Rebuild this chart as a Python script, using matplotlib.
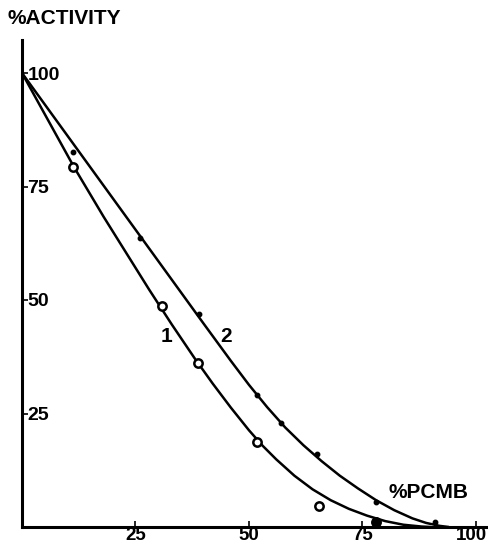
import matplotlib.pyplot as plt
from matplotlib.transforms import ScaledTranslation

pcmb_1 = [11.2, 30.8, 38.8, 51.7, 65.4, 78.0]
act_1 = [79.2, 48.7, 36.2, 18.7, 4.6, 1.2]

pcmb_2 = [11.2, 26.0, 39.0, 51.8, 57.0, 65.0, 78.0, 91.0]
act_2 = [82.5, 63.6, 47.0, 29.0, 23.0, 16.0, 5.5, 1.0]

# hand drawn curves
curve1_x = [0, 11.5, 18, 22, 28, 33, 38, 42, 46, 50, 53, 56, 60, 64, 68, 72, 76, 80, 84, 88, 90]
curve1_y = [100, 79.2, 68.3, 61.9, 52.3, 44.6, 37.2, 31.6, 26.3, 21.3, 17.9, 14.9,
            11.3, 8.3, 5.9, 4.0, 2.5, 1.3, 0.5, 0.1, 0]

curve2_x = [0, 10, 20, 30, 40, 46, 50, 54, 58, 62, 66, 70, 74, 78, 82, 86, 89, 92, 94]
curve2_y = [100, 86.2, 72.4, 58.6, 44.8, 36.6, 31.3, 26.4, 21.9, 18.0, 14.5, 11.3,
            8.5, 5.9, 3.7, 1.9, 0.9, 0.25, 0]

ticks = [25, 50, 75, 100]

font = ['Liberation Sans', 'DejaVu Sans']

fig = plt.figure(figsize=(4.89, 5.47), dpi=100)
ax = fig.add_axes([22/489, 20/547, 467/489, 487/547])

ax.plot(curve1_x, curve1_y, color='black', lw=1.8, solid_capstyle='round')
ax.plot(curve2_x, curve2_y, color='black', lw=1.8, solid_capstyle='round')
ax.plot(pcmb_1, act_1, 'o', ms=6, mfc='white', mec='black', mew=1.8, clip_on=False)
ax.plot(pcmb_1[-1:], act_1[-1:], 'o', ms=6, color='black', clip_on=False)
ax.plot(pcmb_2, act_2, 'o', ms=3.2, color='black', clip_on=False)

ax.text(31.9, 42, '1', fontsize=15, fontweight='bold', family=font, ha='center', va='center')
ax.text(45.0, 42, '2', fontsize=15, fontweight='bold', family=font, ha='center', va='center')
ax.text(80.8, 7.5, '%PCMB', fontsize=15, fontweight='bold', family=font, ha='left', va='center')
fig.text(8/489, 1 - 18/547, '%ACTIVITY', fontsize=15, fontweight='bold', family=font,
         ha='left', va='center')

ax.set_xlim(0, 467/4.54)
ax.set_ylim(0, 487/4.54)

for side in ['top', 'right']:
    ax.spines[side].set_visible(False)
for side in ['left', 'bottom']:
    ax.spines[side].set_linewidth(2.2)

ax.set_xticks(ticks)
ax.set_xticklabels([str(t) for t in ticks], fontsize=13.5, fontweight='bold', family=font)
ax.set_yticks(ticks)
ax.set_yticklabels([str(t) for t in ticks], fontsize=14, fontweight='bold', family=font)
ax.tick_params(axis='x', direction='in', length=4, width=1.2, pad=0)
ax.tick_params(axis='y', direction='in', length=4, width=1.2, pad=-4)
for lab in ax.get_yticklabels():
    lab.set_horizontalalignment('left')

# last x label sits against the right edge
last = ax.get_xticklabels()[-1]
last.set_transform(last.get_transform() + ScaledTranslation(-3/72, 0, fig.dpi_scale_trans))

fig.savefig('out.png', dpi=100)
